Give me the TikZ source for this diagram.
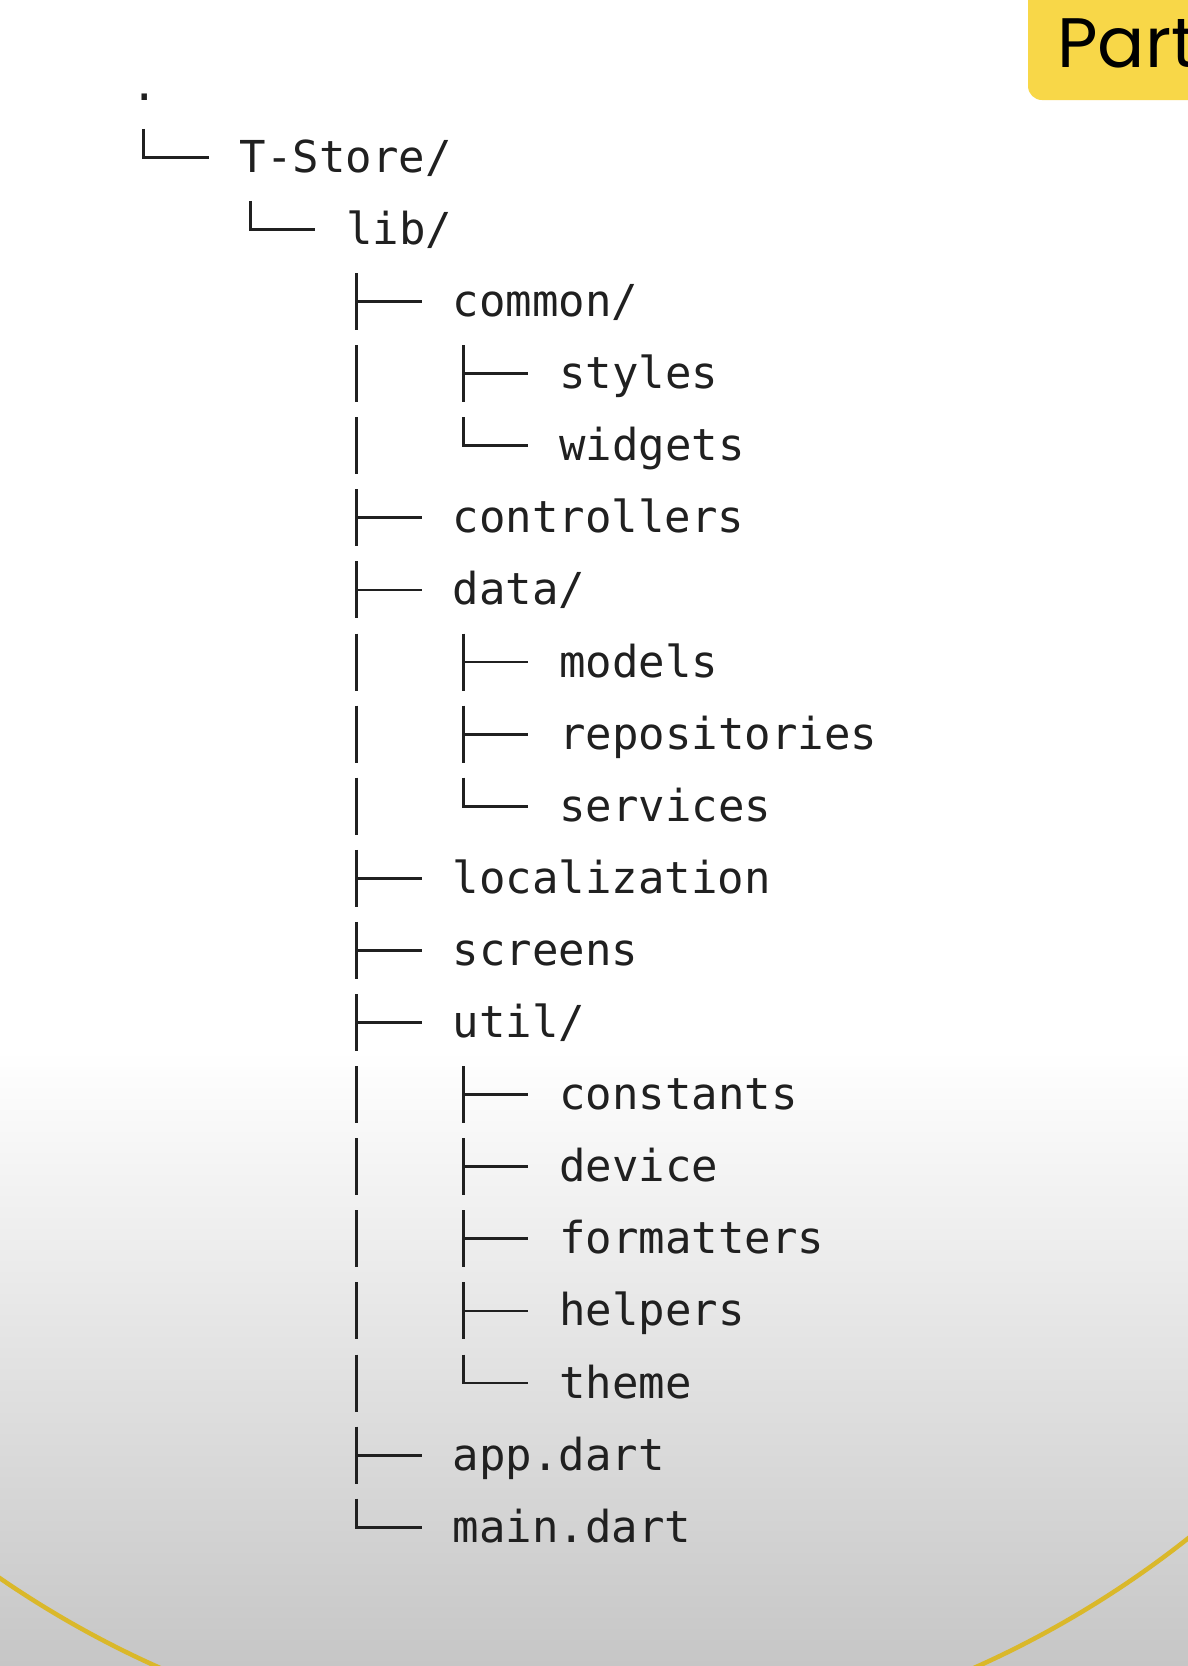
\documentclass[tikz,border=0pt]{standalone}
\usepackage{fontspec}
\setmonofont{DejaVu Sans Mono}
\newfontfamily\partfont{Poppins}
\definecolor{ink}{RGB}{32,32,32}
\definecolor{boxyellow}{RGB}{248,215,72}
\definecolor{arcyellow}{RGB}{218,184,42}
\definecolor{bgmid}{RGB}{228,228,228}
\definecolor{bgbot}{RGB}{198,198,198}
\tikzset{
  item/.style={anchor=base west, inner sep=0pt, text=ink, font=\fontsize{44}{50}\selectfont\ttfamily},
  treeline/.style={line width=2.8pt, draw=ink, line cap=butt, line join=miter},
  pics/teec/.style={code={\draw[treeline] (0,28.5)--(0,-28.5) (0,0)--(65,0);}},
  pics/ellc/.style={code={\draw[treeline] (0,28.5)--(0,0)--(65,0);}},
  pics/barc/.style={code={\draw[treeline] (0,28.5)--(0,-28.5);}},
}
\begin{document}
\begin{tikzpicture}[x=1pt,y=1pt]
\useasboundingbox (0,0) rectangle (1188,-1666);
% background
\fill[white] (0,0) rectangle (1188,-1666);
\shade[top color=white, middle color=bgmid, bottom color=bgbot] (0,-1050) rectangle (1188,-1666);
% big yellow circle
\draw[arcyellow, line width=4.5pt] (567,-752) circle (1002pt);
% yellow label box
\fill[boxyellow, rounded corners=14pt] (1028,30) rectangle (1300,-100);
\node[anchor=base west, inner sep=0pt, text=black, font=\fontsize{70}{80}\selectfont\partfont] (part) at (1057,-67) {Part};
% tree (baseline = row centre + 15)
\node[item] (root) at (131,-100.2) {.};
\node[item] (tstore) at (239.5,-172.3) {T-Store/};
\node[item] (lib) at (346.1,-244.4) {lib/};
\node[item] (common) at (452.7,-316.5) {common/};
\node[item] (styles) at (559.3,-388.6) {styles};
\node[item] (widgets) at (559.3,-460.7) {widgets};
\node[item] (controllers) at (452.7,-532.8) {controllers};
\node[item] (data) at (452.7,-604.9) {data/};
\node[item] (models) at (559.3,-677.0) {models};
\node[item] (repositories) at (559.3,-749.1) {repositories};
\node[item] (services) at (559.3,-821.2) {services};
\node[item] (localization) at (452.7,-893.3) {localization};
\node[item] (screens) at (452.7,-965.4) {screens};
\node[item] (util) at (452.7,-1037.5) {util/};
\node[item] (constants) at (559.3,-1109.6) {constants};
\node[item] (device) at (559.3,-1181.7) {device};
\node[item] (formatters) at (559.3,-1253.8) {formatters};
\node[item] (helpers) at (559.3,-1325.9) {helpers};
\node[item] (theme) at (559.3,-1398.0) {theme};
\node[item] (appdart) at (452.7,-1470.1) {app.dart};
\node[item] (maindart) at (452.7,-1542.2) {main.dart};
% connectors
\tikzset{c1/.style={xshift=-96pt,yshift=15pt}, c2/.style={xshift=-202.6pt,yshift=15pt}}
\pic at ([c1]tstore.base west) {ellc};
\pic at ([c1]lib.base west) {ellc};
\pic at ([c1]common.base west) {teec};
\pic at ([c1]styles.base west) {teec};
\pic at ([c2]styles.base west) {barc};
\pic at ([c1]widgets.base west) {ellc};
\pic at ([c2]widgets.base west) {barc};
\pic at ([c1]controllers.base west) {teec};
\pic at ([c1]data.base west) {teec};
\pic at ([c1]models.base west) {teec};
\pic at ([c2]models.base west) {barc};
\pic at ([c1]repositories.base west) {teec};
\pic at ([c2]repositories.base west) {barc};
\pic at ([c1]services.base west) {ellc};
\pic at ([c2]services.base west) {barc};
\pic at ([c1]localization.base west) {teec};
\pic at ([c1]screens.base west) {teec};
\pic at ([c1]util.base west) {teec};
\pic at ([c1]constants.base west) {teec};
\pic at ([c2]constants.base west) {barc};
\pic at ([c1]device.base west) {teec};
\pic at ([c2]device.base west) {barc};
\pic at ([c1]formatters.base west) {teec};
\pic at ([c2]formatters.base west) {barc};
\pic at ([c1]helpers.base west) {teec};
\pic at ([c2]helpers.base west) {barc};
\pic at ([c1]theme.base west) {ellc};
\pic at ([c2]theme.base west) {barc};
\pic at ([c1]appdart.base west) {teec};
\pic at ([c1]maindart.base west) {ellc};
\end{tikzpicture}
\end{document}
